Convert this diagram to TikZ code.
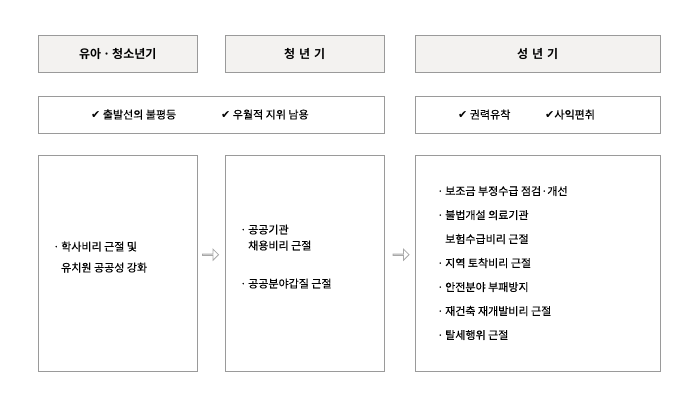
\documentclass[tikz,border=0pt]{standalone}
\usepackage{fontspec}
\setmainfont{Noto Sans CJK KR}
\newfontfamily\bodyfont{Noto Sans CJK KR}[FakeBold=0.35]
\newfontfamily\hdrfont{Noto Sans CJK KR Bold}
\newfontfamily\symfont{DejaVu Sans}
\usepackage{xcolor}
\usetikzlibrary{calc,positioning,shapes.arrows}
\definecolor{frame}{HTML}{9A9A9A}
\definecolor{hdrfill}{HTML}{F3F2F0}
\definecolor{flowgray}{HTML}{A8A8A8}
\newcommand{\chk}{{\symfont ✔}}
\newcommand{\dotb}{·\,}
\newcommand{\dotgap}{\phantom{·\,}}

\begin{document}
\begin{tikzpicture}[
    x=1pt, y=-1pt,
    every node/.style={font=\bodyfont\fontsize{11}{13}\selectfont},
    hdr/.style={draw=frame, fill=hdrfill, minimum height=37pt, font=\hdrfont\fontsize{12}{14}\selectfont},
    tag/.style={draw=frame, fill=white, minimum height=37pt},
    panel/.style={draw=frame, fill=white, minimum height=216pt},
    itemlist/.style={align=left, anchor=west, inner sep=0},
    flow/.style={single arrow, draw=flowgray, fill=white, line width=0.8pt,
        minimum width=11pt, minimum height=16pt, single arrow head extend=3pt,
        single arrow tip angle=90, inner sep=0}]
\useasboundingbox (0,0) rectangle (700,407);

% header row
\node[hdr, minimum width=159pt, anchor=north west] (hdrA) at (38,35) {유아\,·\,청소년기};
\node[hdr, minimum width=159pt, anchor=north west] (hdrB) at (225,35) {청\,\,년\,\,기};
\node[hdr, minimum width=245pt, anchor=north west] (hdrC) at (415,35) {성\,\,년\,\,기};

% causes
\node[tag, minimum width=346pt, anchor=north west] (tagL) at (38,96) {};
\node[tag, minimum width=245pt, anchor=north west] (tagR) at (415,96) {};
\node[anchor=west, inner sep=0] (causeA) at (91,114.5) {\chk\ 출발선의 불평등};
\node[anchor=west, inner sep=0] (causeB) at (221,114.5) {\chk\ 우월적 지위 남용};
\node[anchor=west, inner sep=0] (causeC) at (458,114.5) {\chk\ 권력유착};
\node[anchor=west, inner sep=0] (causeD) at (545,114.5) {\chk 사익편취};

% panels
\node[panel, minimum width=159pt, anchor=north west] (boxA) at (38,155) {};
\node[panel, minimum width=159pt, anchor=north west] (boxB) at (225,155) {};
\node[panel, minimum width=245pt, anchor=north west] (boxC) at (415,155) {};

\node[itemlist] (listA) at (53,257) {\dotb 학사비리 근절 및\\[8pt]\dotgap 유치원 공공성 강화};
\node[itemlist] (listB) at (240,256.5) {\dotb 공공기관\\[3pt]\dotgap 채용비리 근절\\[25pt]\dotb 공공분야갑질 근절};
\node[itemlist] (listC) at (437,263) {\dotb 보조금 부정수급 점검·개선\\[11pt]
    \dotb 불법개설 의료기관\\[11pt]
    \dotgap 보험수급비리 근절\\[11pt]
    \dotb 지역 토착비리 근절\\[11pt]
    \dotb 안전분야 부패방지\\[11pt]
    \dotb 재건축 재개발비리 근절\\[11pt]
    \dotb 탈세행위 근절};

% hollow arrows between panels
\node[flow] (arrAB) at ($(boxA.east)!0.5!(boxB.west)+(-1,-8.5)$) {};
\node[flow] (arrBC) at ($(boxB.east)!0.5!(boxC.west)+(1,-8.5)$) {};

\end{tikzpicture}
\end{document}
